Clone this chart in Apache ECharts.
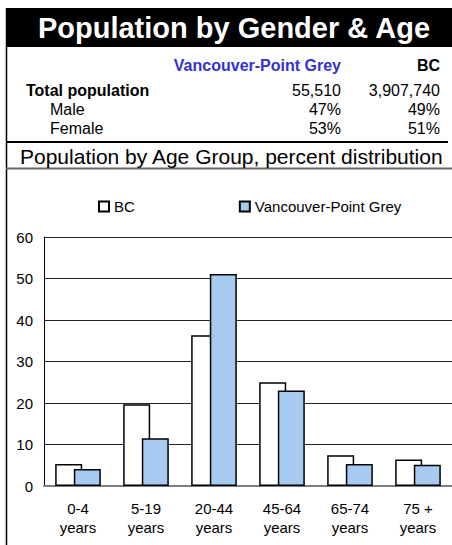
<!DOCTYPE html>
<html>
<head>
<meta charset="utf-8">
<style>
  html, body { margin: 0; padding: 0; background: #fff; }
  #chart-container { width: 452px; height: 545px; }
</style>
<script src="https://cdn.jsdelivr.net/npm/echarts@6/dist/echarts.min.js"></script>
</head>
<body>
<div id="chart-container"></div>
<script>
const headerTitle = 'Population by Gender & Age';
const sectionTitle = 'Population by Age Group, percent distribution';
const regionName = 'Vancouver-Point Grey';
const provinceName = 'BC';
const rowLabels = ['Total population', 'Male', 'Female'];
const regionStats = ['55,510', '47%', '53%'];
const provinceStats = ['3,907,740', '49%', '51%'];

const ageGroups = ['0-4\nyears', '5-19\nyears', '20-44\nyears', '45-64\nyears', '65-74\nyears', '75 +\nyears'];
const bcValues = [5.3, 19.7, 36.3, 25.0, 7.4, 6.4];
const vpgValues = [4.1, 11.5, 51.1, 23.0, 5.3, 5.1];

const FONT = "'Liberation Sans', Arial, sans-serif";

function drawPage () {
    const chartContainer = document.getElementById('chart-container');
    if (!chartContainer) {
        console.error('Chart container element not found!');
        return;
    }
    const myChart = echarts.init(chartContainer, null, { renderer: 'svg' });

    const rowY = [90, 109, 128];
    const graphics = [
        // frame lines
        { type: 'rect', shape: { x: 6, y: 8, width: 446, height: 39 }, style: { fill: '#000' } },
        { type: 'line', shape: { x1: 6.5, y1: 8, x2: 6.5, y2: 545 }, style: { stroke: '#000', lineWidth: 1.5 } },
        { type: 'line', shape: { x1: 6, y1: 142, x2: 448, y2: 142 }, style: { stroke: '#000', lineWidth: 2 } },
        { type: 'line', shape: { x1: 6, y1: 168.5, x2: 452, y2: 168.5 }, style: { stroke: '#666', lineWidth: 2 } },
        {
            type: 'text',
            style: { text: headerTitle, x: 234, y: 28, fill: '#fff', font: 'bold 29px ' + FONT, textAlign: 'center', textVerticalAlign: 'middle' }
        },
        {
            type: 'text',
            style: { text: regionName, x: 341, y: 65, fill: '#3333cc', font: 'bold 16px ' + FONT, textAlign: 'right', textVerticalAlign: 'middle' }
        },
        {
            type: 'text',
            style: { text: provinceName, x: 440, y: 65, fill: '#000', font: 'bold 16px ' + FONT, textAlign: 'right', textVerticalAlign: 'middle' }
        },
        {
            type: 'text',
            style: { text: sectionTitle, x: 20, y: 156, fill: '#000', font: '21px ' + FONT, textAlign: 'left', textVerticalAlign: 'middle' }
        }
    ];

    rowLabels.forEach(function (label, i) {
        graphics.push({
            type: 'text',
            style: {
                text: label, x: i === 0 ? 26 : 50, y: rowY[i], fill: '#000',
                font: (i === 0 ? 'bold ' : '') + '16px ' + FONT, textAlign: 'left', textVerticalAlign: 'middle'
            }
        });
        graphics.push({
            type: 'text',
            style: { text: regionStats[i], x: 341, y: rowY[i], fill: '#000', font: '16px ' + FONT, textAlign: 'right', textVerticalAlign: 'middle' }
        });
        graphics.push({
            type: 'text',
            style: { text: provinceStats[i], x: 440, y: rowY[i], fill: '#000', font: '16px ' + FONT, textAlign: 'right', textVerticalAlign: 'middle' }
        });
    });

    const options = {
        backgroundColor: '#fff',
        animation: false,
        graphic: graphics,
        legend: {
            left: 98,
            top: 199,
            padding: 0,
            itemWidth: 10,
            itemHeight: 10,
            itemGap: 104,
            icon: 'rect',
            textStyle: { fontFamily: FONT, fontSize: 15, color: '#000' },
            data: ['BC', 'Vancouver-Point Grey']
        },
        grid: {
            left: 44,
            right: 0,
            top: 237,
            bottom: 59
        },
        xAxis: {
            type: 'category',
            data: ageGroups,
            axisTick: { show: false },
            axisLine: { lineStyle: { color: '#808080', width: 2 } },
            axisLabel: {
                fontFamily: FONT, fontSize: 15, color: '#000',
                lineHeight: 19, margin: 13, interval: 0
            }
        },
        yAxis: {
            type: 'value',
            min: 0,
            max: 60,
            interval: 10,
            axisLine: { show: true, lineStyle: { color: '#000', width: 1 } },
            axisTick: { show: false },
            axisLabel: { fontFamily: FONT, fontSize: 15, color: '#000', margin: 11 },
            splitLine: { lineStyle: { color: '#222', width: 1 } }
        },
        series: [
            {
                name: 'BC',
                type: 'bar',
                barWidth: 27,
                barGap: '-31%',
                itemStyle: { color: '#fff', borderColor: '#000', borderWidth: 1.5 },
                data: bcValues
            },
            {
                name: 'Vancouver-Point Grey',
                type: 'bar',
                barWidth: 27,
                itemStyle: { color: '#a6caf0', borderColor: '#000', borderWidth: 1.5 },
                data: vpgValues
            }
        ]
    };

    myChart.setOption(options);

    window.addEventListener('resize', function () {
        myChart.resize();
    });
}

drawPage();
</script>
</body>
</html>
